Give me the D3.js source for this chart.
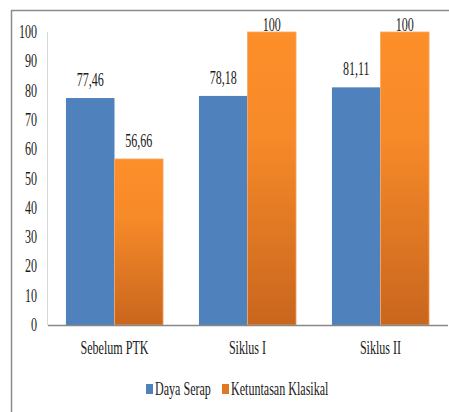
<!DOCTYPE html>
<html>
<head>
<meta charset="utf-8">
<script src="https://cdn.jsdelivr.net/npm/d3@7"></script>
<style>
  html, body { margin: 0; padding: 0; background: #fff; }
  svg { display: block; }
  text { font-family: "Liberation Serif", "Times New Roman", serif; font-size: 18px; fill: #1a1a1a; }
</style>
</head>
<body>
<svg id="chart" width="449" height="412"></svg>
<script>
// Chart data
const categories = ["Sebelum PTK", "Siklus I", "Siklus II"];
const seriesNames = ["Daya Serap", "Ketuntasan Klasikal"];
const dayaSerap = [77.46, 78.18, 81.11];
const ketuntasanKlasikal = [56.66, 100, 100];
const valueLabels = [["77,46", "78,18", "81,11"], ["56,66", "100", "100"]];
const yTicks = [0, 10, 20, 30, 40, 50, 60, 70, 80, 90, 100];

const seriesValues = [dayaSerap, ketuntasanKlasikal];
const svg = d3.select("#chart");
const SX = 0.67; // condensed text width

function condensedText(sel, x, y, str, anchor) {
  return sel.append("text")
    .attr("transform", `translate(${x},${y}) scale(${SX},1)`)
    .attr("text-anchor", anchor || "middle")
    .text(str);
}

// Gradient for the orange series
const defs = svg.append("defs");
const grad = defs.append("linearGradient")
  .attr("id", "orangeGrad").attr("x1", 0).attr("y1", 0).attr("x2", 0).attr("y2", 1);
grad.append("stop").attr("offset", "0%").attr("stop-color", "#fd8f2a");
grad.append("stop").attr("offset", "35%").attr("stop-color", "#f78a29");
grad.append("stop").attr("offset", "100%").attr("stop-color", "#c9661e");

// Frame lines (top and left)
svg.append("line").attr("x1", 11).attr("y1", 10.5).attr("x2", 449).attr("y2", 10.5)
  .attr("stroke", "#8c8c8c").attr("stroke-width", 1.5);
svg.append("line").attr("x1", 11.5).attr("y1", 10).attr("x2", 11.5).attr("y2", 412)
  .attr("stroke", "#8c8c8c").attr("stroke-width", 1.5);

// Scales
const y = d3.scaleLinear().domain([0, 100]).range([325, 32]);
const x0 = d3.scaleBand().domain(categories).range([48, 447])
  .paddingInner(0.27).paddingOuter(0.135);
const x1 = d3.scaleBand().domain(seriesNames).range([0, x0.bandwidth()]).padding(0);
const colors = ["#4f81bd", "url(#orangeGrad)"];

// Y axis
svg.append("line").attr("x1", 47.5).attr("y1", y(100)).attr("x2", 47.5).attr("y2", y(0))
  .attr("stroke", "#d9d9d9").attr("stroke-width", 1);
yTicks.forEach(t => condensedText(svg, 37, y(t) + 6, String(t), "end"));

// Bars
seriesNames.forEach((s, si) => {
  const g = svg.append("g");
  g.selectAll("rect").data(seriesValues[si]).join("rect")
    .attr("x", (d, i) => x0(categories[i]) + x1(s))
    .attr("y", d => y(d))
    .attr("width", x1.bandwidth())
    .attr("height", d => y(0) - y(d))
    .attr("fill", colors[si])
    .attr("stroke", si === 1 ? "#f7a865" : "none")
    .attr("stroke-width", si === 1 ? 0.8 : 0);
  seriesValues[si].forEach((d, i) => {
    const cx = x0(categories[i]) + x1(s) + x1.bandwidth() / 2;
    condensedText(svg, cx, Math.max(y(d) - 12, y(100) - 1), valueLabels[si][i]);
  });
});

// X axis
svg.append("line").attr("x1", 48).attr("y1", 325.5).attr("x2", 448).attr("y2", 325.5)
  .attr("stroke", "#888").attr("stroke-width", 1.5);
categories.forEach(c => condensedText(svg, x0(c) + x0.bandwidth() / 2, 354, c));

// Legend
const legendItems = [
  { name: seriesNames[0], x: 146, color: "#4f81bd" },
  { name: seriesNames[1], x: 222, color: "#e07a22" }
];
legendItems.forEach(it => {
  svg.append("rect").attr("x", it.x).attr("y", 384).attr("width", 7).attr("height", 10)
    .attr("fill", it.color);
  condensedText(svg, it.x + 9, 395, it.name, "start");
});
</script>
</body>
</html>
